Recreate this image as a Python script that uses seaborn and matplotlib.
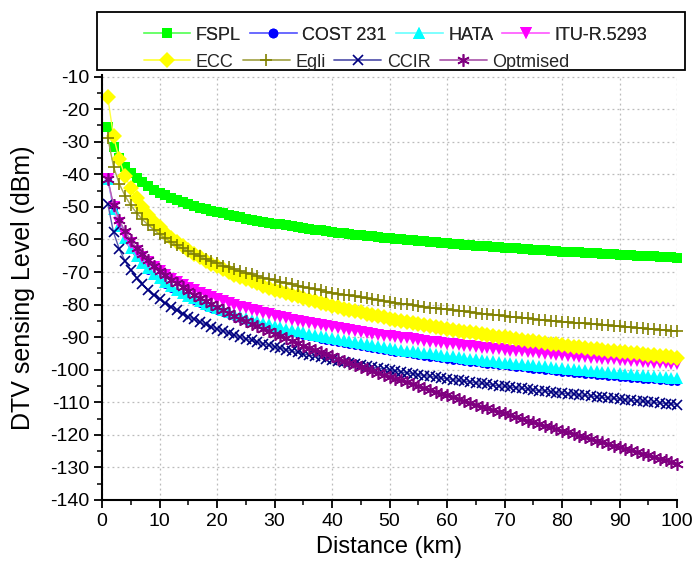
import matplotlib
matplotlib.use("Agg")
import matplotlib.pyplot as plt
from matplotlib.lines import Line2D
from matplotlib.patches import Rectangle
import seaborn as sns
import pandas as pd

distance_km = list(range(1, 101))

fspl = [-25.6, -31.6, -35.1, -37.6, -39.6, -41.2, -42.5, -43.7, -44.7, -45.6,
        -46.4, -47.2, -47.9, -48.5, -49.1, -49.7, -50.2, -50.7, -51.2, -51.6,
        -52.0, -52.4, -52.8, -53.2, -53.6, -53.9, -54.2, -54.5, -54.8, -55.1,
        -55.4, -55.7, -56.0, -56.2, -56.5, -56.7, -57.0, -57.2, -57.4, -57.6,
        -57.9, -58.1, -58.3, -58.5, -58.7, -58.9, -59.0, -59.2, -59.4, -59.6,
        -59.8, -59.9, -60.1, -60.2, -60.4, -60.6, -60.7, -60.9, -61.0, -61.2,
        -61.3, -61.4, -61.6, -61.7, -61.9, -62.0, -62.1, -62.3, -62.4, -62.5,
        -62.6, -62.7, -62.9, -63.0, -63.1, -63.2, -63.3, -63.4, -63.6, -63.7,
        -63.8, -63.9, -64.0, -64.1, -64.2, -64.3, -64.4, -64.5, -64.6, -64.7,
        -64.8, -64.9, -65.0, -65.1, -65.2, -65.2, -65.3, -65.4, -65.5, -65.6]

cost231 = [-41.3, -50.7, -56.2, -60.1, -63.2, -65.7, -67.7, -69.6, -71.2, -72.6,
           -73.9, -75.1, -76.2, -77.2, -78.1, -79.0, -79.8, -80.6, -81.3, -82.0,
           -82.7, -83.3, -83.9, -84.5, -85.1, -85.6, -86.1, -86.6, -87.1, -87.5,
           -88.0, -88.4, -88.8, -89.2, -89.6, -90.0, -90.4, -90.8, -91.1, -91.4,
           -91.8, -92.1, -92.4, -92.7, -93.0, -93.4, -93.6, -93.9, -94.2, -94.5,
           -94.8, -95.0, -95.3, -95.5, -95.8, -96.0, -96.3, -96.5, -96.7, -97.0,
           -97.2, -97.4, -97.6, -97.8, -98.0, -98.3, -98.5, -98.7, -98.9, -99.0,
           -99.2, -99.4, -99.6, -99.8, -100.0, -100.2, -100.3, -100.5, -100.7, -100.9,
           -101.0, -101.2, -101.4, -101.5, -101.7, -101.8, -102.0, -102.1, -102.3, -102.5,
           -102.6, -102.8, -102.9, -103.1, -103.2, -103.3, -103.5, -103.6, -103.8, -103.9]

hata = [-41.3, -50.5, -55.9, -59.7, -62.7, -65.1, -67.2, -68.9, -70.5, -71.9,
        -73.2, -74.3, -75.4, -76.4, -77.3, -78.1, -78.9, -79.7, -80.4, -81.1,
        -81.8, -82.4, -83.0, -83.5, -84.1, -84.6, -85.1, -85.6, -86.0, -86.5,
        -86.9, -87.4, -87.8, -88.1, -88.5, -88.9, -89.3, -89.6, -90.0, -90.3,
        -90.7, -91.0, -91.3, -91.6, -91.9, -92.2, -92.5, -92.7, -93.0, -93.3,
        -93.6, -93.8, -94.1, -94.3, -94.5, -94.8, -95.0, -95.3, -95.5, -95.7,
        -95.9, -96.1, -96.4, -96.6, -96.8, -97.0, -97.2, -97.4, -97.6, -97.8,
        -97.9, -98.1, -98.3, -98.5, -98.7, -98.9, -99.0, -99.2, -99.4, -99.5,
        -99.7, -99.9, -100.0, -100.2, -100.3, -100.5, -100.7, -100.8, -100.9, -101.1,
        -101.2, -101.4, -101.5, -101.7, -101.8, -101.9, -102.1, -102.2, -102.4, -102.5]

itu = [-41.3, -49.9, -54.9, -58.5, -61.2, -63.5, -65.4, -67.0, -68.5, -69.8,
       -71.0, -72.1, -73.1, -74.0, -74.8, -75.6, -76.4, -77.1, -77.8, -78.4,
       -79.0, -79.5, -80.1, -80.6, -81.1, -81.6, -82.1, -82.5, -83.0, -83.4,
       -83.8, -84.2, -84.6, -84.9, -85.3, -85.6, -86.0, -86.3, -86.6, -87.0,
       -87.3, -87.6, -87.8, -88.1, -88.4, -88.7, -89.0, -89.2, -89.5, -89.7,
       -90.0, -90.2, -90.4, -90.7, -90.9, -91.1, -91.4, -91.6, -91.8, -92.0,
       -92.2, -92.4, -92.6, -92.8, -93.0, -93.2, -93.3, -93.5, -93.7, -93.9,
       -94.1, -94.2, -94.4, -94.6, -94.7, -94.9, -95.1, -95.2, -95.4, -95.5,
       -95.7, -95.9, -96.0, -96.1, -96.3, -96.4, -96.6, -96.7, -96.8, -97.0,
       -97.1, -97.3, -97.4, -97.5, -97.7, -97.8, -97.9, -98.0, -98.2, -98.3]

ecc = [-16.3, -28.3, -35.4, -40.4, -44.3, -47.4, -50.1, -52.4, -54.5, -56.3,
       -57.9, -59.5, -60.9, -62.1, -63.3, -64.5, -65.5, -66.5, -67.5, -68.3,
       -69.2, -70.0, -70.8, -71.5, -72.2, -72.9, -73.5, -74.2, -74.8, -75.4,
       -75.9, -76.5, -77.1, -77.5, -78.1, -78.5, -79.0, -79.5, -79.9, -80.4,
       -80.8, -81.2, -81.6, -82.0, -82.4, -82.8, -83.2, -83.5, -83.9, -84.3,
       -84.6, -84.9, -85.3, -85.6, -85.9, -86.2, -86.5, -86.8, -87.1, -87.4,
       -87.7, -88.0, -88.3, -88.5, -88.8, -89.1, -89.3, -89.6, -89.9, -90.1,
       -90.3, -90.6, -90.8, -91.1, -91.3, -91.5, -91.7, -92.0, -92.2, -92.4,
       -92.6, -92.9, -93.1, -93.3, -93.5, -93.7, -93.9, -94.1, -94.3, -94.5,
       -94.7, -94.9, -95.0, -95.2, -95.4, -95.6, -95.8, -95.9, -96.1, -96.3]

egli = [-28.7, -37.6, -42.9, -46.6, -49.5, -51.8, -53.8, -55.5, -57.0, -58.4,
        -59.6, -60.7, -61.8, -62.7, -63.6, -64.5, -65.2, -66.0, -66.7, -67.3,
        -68.0, -68.6, -69.2, -69.7, -70.2, -70.7, -71.2, -71.7, -72.1, -72.6,
        -73.0, -73.4, -73.8, -74.2, -74.6, -74.9, -75.3, -75.6, -76.0, -76.3,
        -76.6, -76.9, -77.2, -77.5, -77.8, -78.1, -78.4, -78.6, -78.9, -79.2,
        -79.4, -79.7, -79.9, -80.1, -80.4, -80.6, -80.9, -81.1, -81.3, -81.5,
        -81.7, -81.9, -82.1, -82.3, -82.5, -82.8, -82.9, -83.1, -83.3, -83.5,
        -83.7, -83.9, -84.0, -84.2, -84.4, -84.6, -84.7, -84.9, -85.1, -85.2,
        -85.4, -85.5, -85.7, -85.8, -86.0, -86.1, -86.3, -86.4, -86.6, -86.7,
        -86.9, -87.0, -87.1, -87.3, -87.4, -87.6, -87.7, -87.8, -88.0, -88.1]

ccir = [-49.0, -57.8, -62.9, -66.6, -69.5, -71.8, -73.8, -75.5, -77.0, -78.4,
        -79.6, -80.7, -81.8, -82.8, -83.7, -84.5, -85.3, -86.1, -86.8, -87.5,
        -88.1, -88.7, -89.4, -89.9, -90.5, -91.0, -91.5, -92.0, -92.5, -92.9,
        -93.4, -93.8, -94.3, -94.7, -95.1, -95.5, -95.8, -96.2, -96.6, -96.9,
        -97.3, -97.6, -98.0, -98.3, -98.6, -98.9, -99.2, -99.5, -99.8, -100.1,
        -100.4, -100.7, -101.0, -101.2, -101.5, -101.8, -102.0, -102.3, -102.5, -102.8,
        -103.0, -103.3, -103.5, -103.7, -104.0, -104.2, -104.4, -104.7, -104.9, -105.1,
        -105.3, -105.5, -105.7, -105.9, -106.2, -106.4, -106.5, -106.8, -107.0, -107.2,
        -107.3, -107.5, -107.7, -107.9, -108.1, -108.3, -108.5, -108.6, -108.8, -109.0,
        -109.2, -109.4, -109.5, -109.7, -109.9, -110.0, -110.2, -110.4, -110.5, -110.7]

optimised = [-41.5, -49.3, -54.0, -57.5, -60.2, -62.6, -64.6, -66.4, -68.0, -69.6,
             -71.0, -72.3, -73.5, -74.7, -75.8, -76.9, -77.9, -78.9, -79.9, -80.8,
             -81.7, -82.6, -83.5, -84.3, -85.1, -85.9, -86.7, -87.5, -88.2, -89.0,
             -89.7, -90.4, -91.2, -91.9, -92.6, -93.2, -93.9, -94.6, -95.3, -95.9,
             -96.6, -97.2, -97.8, -98.5, -99.1, -99.7, -100.3, -100.9, -101.5, -102.2,
             -102.8, -103.3, -103.9, -104.5, -105.1, -105.7, -106.2, -106.8, -107.4, -107.9,
             -108.5, -109.1, -109.6, -110.2, -110.7, -111.3, -111.8, -112.4, -112.9, -113.4,
             -114.0, -114.5, -115.0, -115.6, -116.1, -116.6, -117.2, -117.7, -118.2, -118.7,
             -119.2, -119.8, -120.3, -120.8, -121.3, -121.8, -122.3, -122.8, -123.3, -123.8,
             -124.3, -124.8, -125.3, -125.8, -126.3, -126.8, -127.3, -127.8, -128.3, -128.8]

series_names = ["FSPL", "COST 231", "HATA", "ITU-R.5293", "ECC", "Egli", "CCIR", "Optmised"]
series_values = [fspl, cost231, hata, itu, ecc, egli, ccir, optimised]

x_ticks = list(range(0, 101, 10))
y_ticks = list(range(-140, -9, 10))

# styles: (marker colour, line colour, marker, plot markersize, legend markersize, edge width)
styles = {
    "FSPL":       ("#00FF00", "#6CFF6C", "s", 7.0, 7.0, 0.0),
    "COST 231":   ("#0000FF", "#6C6CFF", "o", 5.0, 7.0, 0.0),
    "HATA":       ("#00FFFF", "#80FFFF", "^", 8.5, 8.5, 0.0),
    "ITU-R.5293": ("#FF00FF", "#FF70FF", "v", 8.5, 8.5, 0.0),
    "ECC":        ("#FFFF00", "#FFFF40", "D", 8.0, 8.0, 0.0),
    "Egli":       ("#808000", "#A8A850", "+", 9.0, 9.0, 1.2),
    "CCIR":       ("#000080", "#5A5AB0", "x", 6.5, 6.5, 1.2),
    "Optmised":   ("#800080", "#B060B0", (6, 2, 0), 9.0, 9.0, 1.2),
}

sns.set_theme(style="white")
plt.rcParams["font.family"] = ["Liberation Sans", "DejaVu Sans"]
plt.rcParams["axes.unicode_minus"] = False

df = pd.DataFrame({
    "Distance": distance_km * len(series_names),
    "Level": [v for vals in series_values for v in vals],
    "Model": [n for n in series_names for _ in distance_km],
})

fig = plt.figure(figsize=(6.92, 5.74), dpi=100)
ax = fig.add_axes([102 / 692, 1 - 500 / 574, 575 / 692, 425 / 574])

handles = []
for name in series_names:
    mc, lc, mk, ms, lms, mew = styles[name]
    sub = df[df["Model"] == name]
    filled = mew == 0.0
    sns.lineplot(data=sub, x="Distance", y="Level", ax=ax, color=lc,
                 marker=mk, markersize=ms,
                 markerfacecolor=mc if filled else "none",
                 markeredgecolor=mc, markeredgewidth=mew if not filled else 0.0,
                 linewidth=1.0, clip_on=False, legend=False, estimator=None,
                 sort=False)
    handles.append(Line2D([0], [0], color=lc, lw=1.3, marker=mk, markersize=lms,
                          markerfacecolor=mc if filled else "none",
                          markeredgecolor=mc,
                          markeredgewidth=mew if not filled else 0.0))

ax.set_xlim(0, 100)
ax.set_ylim(-140, -9.5)
ax.set_xticks(x_ticks)
ax.set_yticks(y_ticks)
ax.set_xticks(range(5, 100, 10), minor=True)
ax.set_yticks(range(-135, -9, 10), minor=True)
ax.tick_params(axis="both", which="major", direction="out", length=6, width=1.3,
               labelsize=14, colors="black", pad=3)
ax.tick_params(axis="both", which="minor", direction="out", length=3.5, width=1.3)
ax.tick_params(bottom=True, left=True, top=False, right=False, which="both")
for s in ["top", "right"]:
    ax.spines[s].set_visible(False)
for s in ["left", "bottom"]:
    ax.spines[s].set_color("black")
    ax.spines[s].set_linewidth(1.5)
ax.grid(True, which="major", color="#BBBBBB", linestyle=(0, (1.5, 2.5)), linewidth=0.9)
ax.set_axisbelow(True)

ax.set_xlabel("Distance (km)", fontsize=17, color="black", labelpad=5)
ax.set_ylabel("DTV sensing Level (dBm)", fontsize=18, color="black", labelpad=11)

# legend frame
fig.patches.append(Rectangle((97 / 692, 1 - 70 / 574), 588 / 692, 58 / 574,
                             transform=fig.transFigure, fill=False,
                             edgecolor="black", linewidth=1.3))
leg_kw = dict(loc="upper left", ncol=4, frameon=False, fontsize=13,
              handlelength=2.6, handletextpad=0.3, columnspacing=0.5,
              borderpad=0.25)
leg1 = fig.legend(handles[:4], series_names[:4],
                  bbox_to_anchor=(130 / 692, 1 - 13 / 574), **leg_kw)
leg2 = fig.legend(handles[4:], series_names[4:],
                  bbox_to_anchor=(130 / 692, 1 - 40 / 574), **leg_kw)
fig.add_artist(leg1)

fig.savefig("out.png", dpi=100)
